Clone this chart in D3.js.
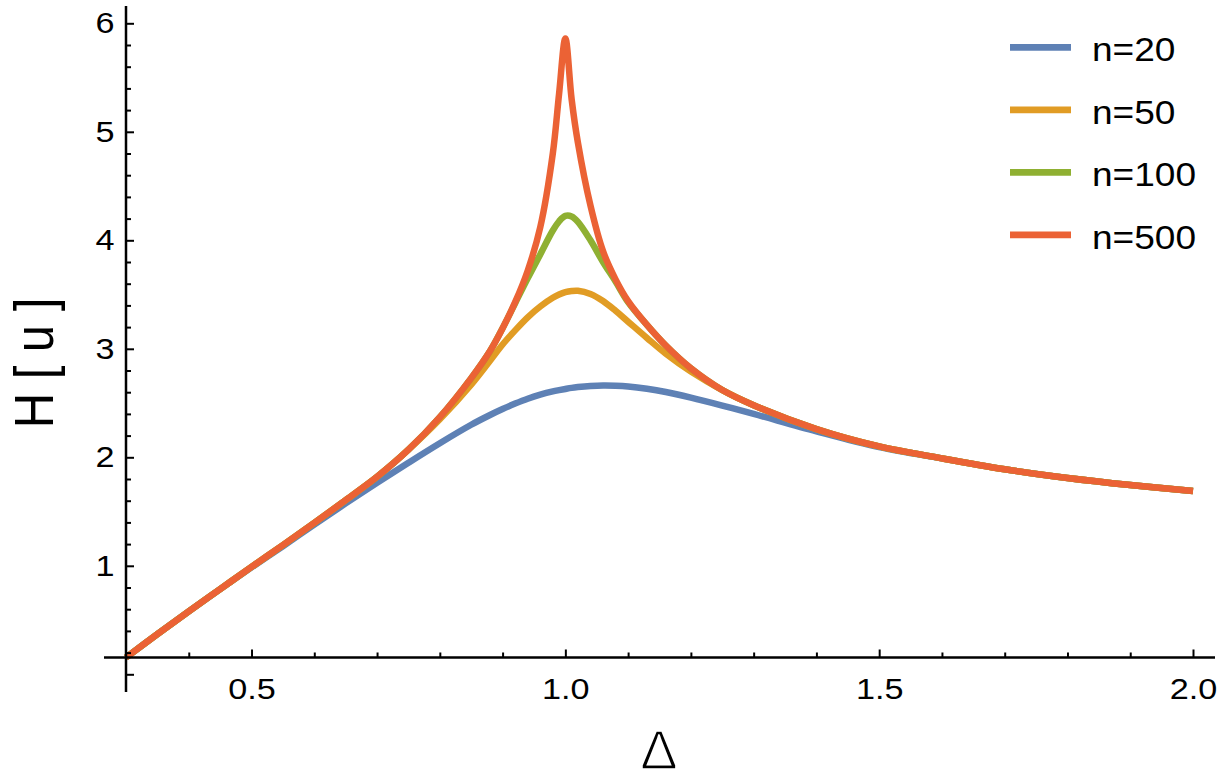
<!DOCTYPE html>
<html>
<head>
<meta charset="utf-8">
<script src="https://d3js.org/d3.v7.min.js"></script>
<style>
  body { margin: 0; background: #fff; }
  text { font-family: "Liberation Sans", Arial, Helvetica, sans-serif; fill: #000; }
</style>
</head>
<body>
<div id="chart"></div>
<script>
// Δ grid shared by all curves
var delta = [0.30, 0.35, 0.40, 0.45, 0.50, 0.55, 0.60, 0.65, 0.70, 0.75, 0.80, 0.85, 0.88, 0.90, 0.92, 0.94, 0.96, 0.98, 0.99, 1.00,
  1.01, 1.02, 1.04, 1.06, 1.08, 1.10, 1.13, 1.16, 1.20, 1.25, 1.30, 1.40, 1.50, 1.60, 1.70, 1.80, 1.90, 2.00];

// H[u], one array per n
var h20 = [0.155, 0.37, 0.58, 0.785, 0.985, 1.18, 1.38, 1.575, 1.765, 1.95, 2.13, 2.30, 2.39, 2.445, 2.495, 2.54, 2.577, 2.607, 2.619, 2.63,
  2.64, 2.647, 2.657, 2.662, 2.66, 2.653, 2.632, 2.602, 2.55, 2.477, 2.40, 2.24, 2.095, 1.99, 1.89, 1.81, 1.745, 1.69];
var h50 = [0.155, 0.37, 0.58, 0.785, 0.99, 1.19, 1.395, 1.605, 1.82, 2.07, 2.35, 2.67, 2.89, 3.04, 3.17, 3.29, 3.39, 3.47, 3.50, 3.522,
  3.533, 3.535, 3.505, 3.44, 3.35, 3.25, 3.10, 2.955, 2.79, 2.62, 2.48, 2.26, 2.10, 1.99, 1.89, 1.81, 1.745, 1.69];
var h100 = [0.155, 0.37, 0.58, 0.785, 0.99, 1.19, 1.395, 1.605, 1.82, 2.07, 2.37, 2.73, 2.98, 3.19, 3.42, 3.65, 3.87, 4.09, 4.175, 4.225,
  4.22, 4.17, 4.00, 3.80, 3.62, 3.43, 3.22, 3.03, 2.82, 2.62, 2.48, 2.26, 2.10, 1.99, 1.89, 1.81, 1.745, 1.69];
var h500 = [0.155, 0.37, 0.58, 0.785, 0.99, 1.19, 1.395, 1.605, 1.82, 2.07, 2.37, 2.73, 2.98, 3.19, 3.43, 3.72, 4.12, 4.80, 5.35, 5.86,
  5.30, 4.90, 4.32, 3.90, 3.64, 3.44, 3.22, 3.03, 2.82, 2.62, 2.48, 2.26, 2.10, 1.99, 1.89, 1.81, 1.745, 1.69];

var seriesNames = ["n=20", "n=50", "n=100", "n=500"];
var seriesValues = [h20, h50, h100, h500];
var seriesColors = ["#5E81B5", "#E19C24", "#8FB032", "#EB6235"];

var xMajor = [0.5, 1.0, 1.5, 2.0];
var xMinor = [0.4, 0.6, 0.7, 0.8, 0.9, 1.1, 1.2, 1.3, 1.4, 1.6, 1.7, 1.8, 1.9];
var yMajor = [0, 1, 2, 3, 4, 5, 6];
var yMinor = d3.range(1, 31).filter(function (k) { return k % 5 !== 0; }).map(function (k) { return k * 0.2; });

// axes cross where the curves start
var originX = 0.3, originY = 0.155;

var width = 1221, height = 775;
var stretch = 1.14; // the text in the picture is a bit wider than normal

var svg = d3
  .select("#chart")
  .append("svg")
  .attr("width", width)
  .attr("height", height);

svg.append("rect").attr("width", width).attr("height", height).attr("fill", "#fff");

var x = d3.scaleLinear().domain([0.3, 2.0]).range([126, 1193]);
var y = d3.scaleLinear().domain([0, 6]).range([674.3, 23.3]);

// curves
var line = d3
  .line()
  .x(function (d) { return x(d[0]); })
  .y(function (d) { return y(d[1]); })
  .curve(d3.curveCatmullRom.alpha(0.5));

svg
  .append("g")
  .selectAll("path")
  .data(seriesValues)
  .enter()
  .append("path")
  .attr("d", function (vals) {
    return line(delta.map(function (dx, i) { return [dx, vals[i]]; }));
  })
  .attr("fill", "none")
  .attr("stroke", function (d, i) { return seriesColors[i]; })
  .attr("stroke-width", 6.5)
  .attr("stroke-linejoin", "round");

// X axis: major ticks with labels, minor ticks without
var xAxisY = y(originY);
var gx = svg.append("g").attr("transform", "translate(0," + xAxisY + ")");
gx.append("g")
  .call(d3.axisBottom(x).tickValues(xMajor).tickFormat(d3.format(".1f")).tickSize(-8).tickPadding(20))
  .call(function (g) { g.select(".domain").remove(); });
gx.append("g")
  .call(d3.axisBottom(x).tickValues(xMinor).tickFormat("").tickSize(-5))
  .call(function (g) { g.select(".domain").remove(); });
gx.append("line")
  .attr("x1", 104)
  .attr("x2", 1215)
  .attr("stroke", "#000")
  .attr("stroke-width", 2.5);

// Y axis
var yAxisX = x(originX);
var gy = svg.append("g").attr("transform", "translate(" + yAxisX + ",0)");
gy.append("g")
  .call(d3.axisLeft(y).tickValues(yMajor).tickFormat(function (d) { return d === 0 ? "" : d; }).tickSize(-8).tickPadding(10))
  .call(function (g) { g.select(".domain").remove(); });
gy.append("g")
  .call(d3.axisLeft(y).tickValues(yMinor).tickFormat("").tickSize(-5))
  .call(function (g) { g.select(".domain").remove(); });
gy.append("line")
  .attr("y1", 692)
  .attr("y2", 6)
  .attr("stroke", "#000")
  .attr("stroke-width", 2.5);

svg.selectAll(".tick line").attr("stroke", "#000").attr("stroke-width", 2);
svg
  .selectAll(".tick text")
  .attr("font-size", 30)
  .attr("font-family", "Liberation Sans, Arial, sans-serif")
  .attr("fill", "#000")
  .attr("transform", "scale(" + stretch + ",1)");

// axis labels
svg
  .append("text")
  .attr("transform", "translate(53,363) scale(" + stretch + ",1) rotate(-90)")
  .attr("text-anchor", "middle")
  .attr("font-size", 49)
  .text("H [ u ]");

// thin outline delta: white stroke over the glyph makes its strokes lighter
svg
  .append("text")
  .attr("transform", "translate(659,769)")
  .attr("text-anchor", "middle")
  .attr("font-size", 56)
  .attr("stroke", "#fff")
  .attr("stroke-width", 1.6)
  .text("Δ");

// legend
var legend = svg
  .append("g")
  .selectAll("g")
  .data(seriesNames)
  .enter()
  .append("g")
  .attr("transform", function (d, i) { return "translate(0," + (47.3 + i * 62.5) + ")"; });

legend
  .append("line")
  .attr("x1", 1010)
  .attr("x2", 1071)
  .attr("stroke", function (d, i) { return seriesColors[i]; })
  .attr("stroke-width", 6.7);

legend
  .append("text")
  .attr("transform", "translate(1092,13.7) scale(" + stretch + ",1)")
  .attr("font-size", 32.5)
  .text(function (d) { return d; });
</script>
</body>
</html>
